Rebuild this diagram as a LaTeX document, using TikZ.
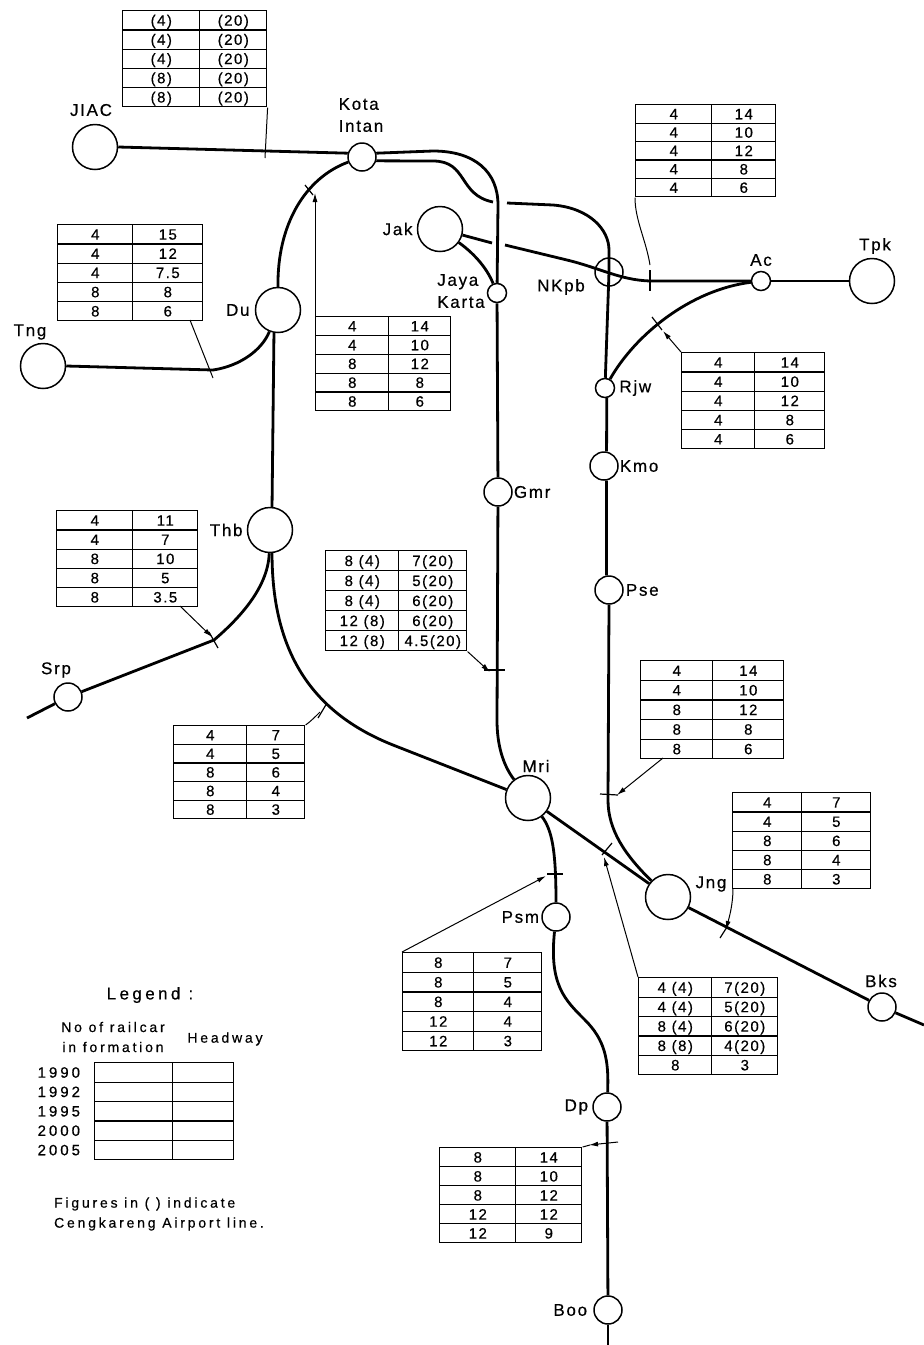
\documentclass[tikz,border=0pt]{standalone}
\usepackage{fontspec}
\setmainfont[LetterSpace=10,FakeBold=0.5]{Liberation Sans}
\newfontfamily\legendfont[LetterSpace=20,FakeBold=0.5]{Liberation Sans}
\usetikzlibrary{positioning, arrows.meta, matrix}

\newcommand{\tblfont}{\fontsize{15}{16}\selectfont}
\newcommand{\lblfont}{\fontsize{17}{22}\selectfont}
\newcommand{\keyfont}{\legendfont\fontsize{14}{20}\selectfont}
\newcommand{\yearfont}{\legendfont\fontsize{15}{16}\selectfont}

\begin{document}
\begin{tikzpicture}[
    x=1pt, y=-1pt,
    bigstation/.style={circle, draw, line width=1.5pt, fill=white, inner sep=0pt, minimum size=45pt},
    midstation/.style={circle, draw, line width=1.5pt, fill=white, inner sep=0pt, minimum size=28pt},
    smallstation/.style={circle, draw, line width=1.5pt, fill=white, inner sep=0pt, minimum size=19pt},
    stationlabel/.style={font=\lblfont, inner sep=0pt, align=left},
    keylabel/.style={font=\keyfont, inner sep=0pt, align=center},
    railline/.style={line width=2.8pt},
    tickline/.style={line width=1.2pt},
    leader/.style={line width=1pt},
    leaderarrow/.style={line width=1pt, -{Latex[length=9pt,width=5pt]}},
    headtable/.style n args={3}{matrix of nodes, nodes in empty cells, anchor=north west,
        inner sep=0pt, row sep=-1.2pt, column sep=-1.2pt,
        nodes={draw, line width=1.2pt, inner sep=0pt, anchor=center, font=\tblfont,
            minimum height=#3pt, text height=10.5pt, text depth=0pt},
        column 1/.style={nodes={minimum width=#1pt}},
        column 2/.style={nodes={minimum width=#2pt}}}
]
\useasboundingbox (0,0) rectangle (924,1345);

% Stations
\node[bigstation] (jiac) at (95,147) {};
\node[midstation] (kota) at (362,157) {};
\node[bigstation] (jak) at (440,229) {};
\node[smallstation] (jaya) at (497,293) {};
\node[bigstation] (du) at (278,310) {};
\node[bigstation] (tng) at (43,366) {};
\node[midstation, fill=none] (nkpb) at (609,272) {};
\node[smallstation] (ac) at (761,281) {};
\node[bigstation] (tpk) at (872,281) {};
\node[smallstation] (rjw) at (605,388) {};
\node[midstation] (kmo) at (604,466) {};
\node[midstation] (gmr) at (498,492) {};
\node[midstation] (pse) at (609,590) {};
\node[bigstation] (thb) at (270,530) {};
\node[midstation] (srp) at (68,697) {};
\node[bigstation] (mri) at (528,798) {};
\node[bigstation] (jng) at (668,897) {};
\node[midstation] (psm) at (556,917) {};
\node[midstation] (bks) at (882,1007) {};
\node[midstation] (dp) at (607,1107) {};
\node[midstation] (boo) at (608,1310) {};

% Station names
\node[stationlabel] (jiacName) at (91,110) {JIAC};
\node[stationlabel] (kotaName) at (361,115) {Kota\\Intan};
\node[stationlabel, left=4pt of jak] (jakName) {Jak};
\node[stationlabel] (jayaName) at (461,291) {Jaya\\Karta};
\node[stationlabel, left=5pt of du] (duName) {Du};
\node[stationlabel] (tngName) at (30,332) {Tng};
\node[stationlabel] (nkpbName) at (561,287) {NKpb};
\node[stationlabel] (acName) at (761,260) {Ac};
\node[stationlabel] (tpkName) at (875,246) {Tpk};
\node[stationlabel, right=4pt of rjw] (rjwName) {Rjw};
\node[stationlabel, right=1pt of kmo] (kmoName) {Kmo};
\node[stationlabel, right=1pt of gmr] (gmrName) {Gmr};
\node[stationlabel, right=2pt of pse] (pseName) {Pse};
\node[stationlabel, left=4pt of thb] (thbName) {Thb};
\node[stationlabel] (srpName) at (56,670) {Srp};
\node[stationlabel] (mriName) at (536,766) {Mri};
\node[stationlabel] (jngName) at (711,884) {Jng};
\node[stationlabel, left=2pt of psm] (psmName) {Psm};
\node[stationlabel] (bksName) at (881,981) {Bks};
\node[stationlabel, left=4pt of dp] (dpName) {Dp};
\node[stationlabel, left=6pt of boo] (booName) {Boo};

% Gaps where lines pass the main line, free ends
\coordinate (gapA) at (493,202);
\coordinate (gapB) at (507,203);
\coordinate (gapC) at (492,243);
\coordinate (gapD) at (505,245);
\coordinate (srpEnd) at (27,718);
\coordinate (bksEnd) at (924,1025);
\coordinate (booEnd) at (608,1345);

% Lines
\draw[railline] (jiac.east) -- (kota.165);
\draw[railline] (kota.15) -- (433,151) .. controls (475,151) and (498,172) .. (498,205) -- (jaya);
\draw[railline] (kota.-15) -- (433,161) .. controls (468,161) and (458,195) .. (gapA);
\draw[railline] (gapB) -- (553,205) .. controls (590,208) and (609,230) .. (609,250) -- (nkpb.center) -- (rjw);
\draw[railline] (jak) -- (gapC);
\draw[railline] (gapD) -- (567,260) .. controls (600,268) and (620,280) .. (650,281) -- (ac);
\draw[railline] (jak) .. controls (472,252) and (486,266) .. (jaya);
\draw[railline] (kota) .. controls (305,178) and (277,225) .. (du.north);
\draw[railline] (du.260) -- (thb.85);
\draw[railline] (tng.east) -- (213,370) .. controls (240,366) and (262,350) .. (du);
\draw[railline] (thb) .. controls (268,590) and (235,622) .. (214,640) -- (srp);
\draw[railline] (srp) -- (srpEnd);
\draw[railline] (thb.-85) .. controls (272,650) and (310,712) .. (393,745) -- (mri);
\draw[railline] (jaya) -- (gmr);
\draw[railline] (gmr) -- (497,720) .. controls (497,745) and (503,765) .. (mri);
\draw[railline] (rjw.-80) -- (kmo.80);
\draw[railline] (kmo.-80) -- (pse.100);
\draw[railline] (pse.south) -- (608,800) .. controls (608,830) and (625,855) .. (jng);
\draw[railline] (mri) -- (jng);
\draw[railline] (mri) .. controls (552,830) and (556,850) .. (psm);
\draw[railline] (psm) .. controls (549,985) and (565,1000) .. (585,1020) .. controls (605,1040) and (609,1060) .. (dp);
\draw[railline] (dp) -- (boo);
\draw[railline] (boo) -- (booEnd);
\draw[railline] (jng) -- (bks);
\draw[railline] (bks) -- (bksEnd);
\draw[railline] (ac) -- (tpk);
\draw[railline] (rjw) .. controls (635,335) and (690,290) .. (ac);

% Tables
\matrix (tblJiac) [headtable={77}{67}{19.2}] at (122,10) {
(4) & (20) \\ (4) & (20) \\ (4) & (20) \\ (8) & (20) \\ (8) & (20) \\
};
\matrix (tblTng) [headtable={75}{70}{19.2}] at (57,224) {
4 & 15 \\ 4 & 12 \\ 4 & 7.5 \\ 8 & 8 \\ 8 & 6 \\
};
\matrix (tblDu) [headtable={73}{62}{18.8}] at (315,316) {
4 & 14 \\ 4 & 10 \\ 8 & 12 \\ 8 & 8 \\ 8 & 6 \\
};
\matrix (tblNkpb) [headtable={76}{64}{18.4}] at (635,104) {
4 & 14 \\ 4 & 10 \\ 4 & 12 \\ 4 & 8 \\ 4 & 6 \\
};
\matrix (tblRjw) [headtable={73}{70}{19.2}] at (681,352) {
4 & 14 \\ 4 & 10 \\ 4 & 12 \\ 4 & 8 \\ 4 & 6 \\
};
\matrix (tblSrp) [headtable={76}{65}{19.2}] at (56,510) {
4 & 11 \\ 4 & 7 \\ 8 & 10 \\ 8 & 5 \\ 8 & 3.5 \\
};
\matrix (tblGmr) [headtable={73}{68}{20}] at (325,550) {
8 (4) & 7(20) \\ 8 (4) & 5(20) \\ 8 (4) & 6(20) \\ 12 (8) & 6(20) \\ 12 (8) & 4.5(20) \\
};
\matrix (tblThb) [headtable={73}{58}{18.6}] at (173,725) {
4 & 7 \\ 4 & 5 \\ 8 & 6 \\ 8 & 4 \\ 8 & 3 \\
};
\matrix (tblPse) [headtable={72}{71}{19.6}] at (640,660) {
4 & 14 \\ 4 & 10 \\ 8 & 12 \\ 8 & 8 \\ 8 & 6 \\
};
\matrix (tblJng) [headtable={69}{69}{19.2}] at (732,792) {
4 & 7 \\ 4 & 5 \\ 8 & 6 \\ 8 & 4 \\ 8 & 3 \\
};
\matrix (tblMri) [headtable={73}{66}{19.4}] at (638,977) {
4 (4) & 7(20) \\ 4 (4) & 5(20) \\ 8 (4) & 6(20) \\ 8 (8) & 4(20) \\ 8 & 3 \\
};
\matrix (tblPsm) [headtable={71}{68}{19.6}] at (402,952) {
8 & 7 \\ 8 & 5 \\ 8 & 4 \\ 12 & 4 \\ 12 & 3 \\
};
\matrix (tblDp) [headtable={76}{66}{19}] at (439,1147) {
8 & 14 \\ 8 & 10 \\ 8 & 12 \\ 12 & 12 \\ 12 & 9 \\
};

% Leaders and ticks
\draw[leader] (tblJiac.south east) -- (265,158);
\draw[leader] (190,320) -- (213,378);
\draw[leaderarrow] (tblDu.north west) -- (315,193);
\draw[tickline] (305,185) -- (313,195);
\draw[leader] (tblNkpb.south west) .. controls (635,220) and (646,240) .. (650,265);
\draw[tickline] (650,270) -- (650,291);
\draw[leaderarrow] (tblRjw.north west) -- (663,331);
\draw[tickline] (652,317) -- (662,330);
\draw[leaderarrow] (180,606) -- (212,637);
\draw[tickline] (209,632) -- (218,648);
\draw[leaderarrow] (tblGmr.south east) -- (490,672);
\draw[tickline] (484,670) -- (505,670);
\draw[leader] (tblThb.north east) .. controls (310,722) and (316,716) .. (320,712);
\draw[tickline] (327,703) -- (318,718);
\draw[leaderarrow] (663,758) -- (617,795);
\draw[tickline] (600,794) -- (618,795);
\draw[leaderarrow] (733,888) .. controls (733,905) and (729,918) .. (726,930);
\draw[tickline] (720,938) -- (727,927);
\draw[leaderarrow] (tblMri.north west) -- (604,857);
\draw[tickline] (612,843) -- (602,855);
\draw[leaderarrow] (tblPsm.north west) -- (546,876);
\draw[tickline] (547,874) -- (563,874);
\draw[leader] (tblDp.north east) -- (590,1145);
\draw[leader, {Latex[length=9pt,width=5pt]}-] (589,1145) -- (618,1142);

% Legend
\node[stationlabel, font=\legendfont\lblfont] (legendTitle) at (150,995) {Legend :};
\node[keylabel] (railcarHead) at (113,1037) {No of railcar\\in formation};
\node[keylabel] (headwayHead) at (225,1039) {Headway};
\matrix (tblLegend) [headtable={78}{61}{19.4}] at (94,1062) {
 & \\ & \\ & \\ & \\ & \\
};
\node[keylabel, font=\yearfont, left=14pt of tblLegend-1-1] (yearA) {1990};
\node[keylabel, font=\yearfont, left=14pt of tblLegend-2-1] (yearB) {1992};
\node[keylabel, font=\yearfont, left=14pt of tblLegend-3-1] (yearC) {1995};
\node[keylabel, font=\yearfont, left=14pt of tblLegend-4-1] (yearD) {2000};
\node[keylabel, font=\yearfont, left=14pt of tblLegend-5-1] (yearE) {2005};
\node[keylabel, align=left] (figuresNote) at (159,1214) {Figures in ( ) indicate\\Cengkareng Airport line.};

\end{tikzpicture}
\end{document}
